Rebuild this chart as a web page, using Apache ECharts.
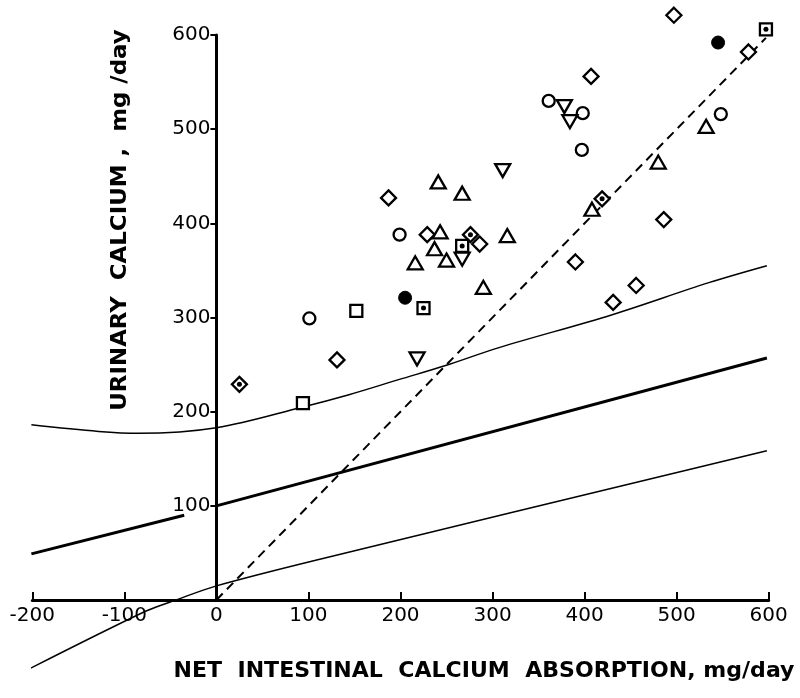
<!DOCTYPE html>
<html>
<head>
<meta charset="utf-8">
<script src="https://cdn.jsdelivr.net/npm/echarts@6/dist/echarts.min.js"></script>
<style>
html,body{margin:0;padding:0;background:#fff;}
#chart{width:800px;height:698px;}
</style>
</head>
<body>
<div id="chart"></div>
<script>
// ---- data ----
const xTicks = [-200, -100, 0, 100, 200, 300, 400, 500, 600];
const yTicks = [100, 200, 300, 400, 500, 600];

const circles = [[101,299],[199,388],[361,530],[398,517],[397,478],[548,516]];
const diamonds = [[131,255],[187,427],[229,388],[286,378],[390,359],[431,316],[456,334],[486,404],[407,556],[497,621],[578,582]];
const trianglesUp = [[216,358],[237,373],[243,391],[250,361],[241,444],[267,432],[316,387],[290,332],[408,415],[480,465],[532,503]];
const trianglesDown = [[218,256],[267,362],[311,456],[378,524],[384,508]];
const squares = [[94,209],[152,307]];
const dottedDiamonds = [[25,229],[276,388],[419,426]];
const dottedSquares = [[225,310],[267,376],[597,606]];
const filledCircles = [[205,321],[545,592]];

const upperBand = [[-201,186],[-128,179],[-84,177],[0,183],[94,205],[144,218],[198,234],[249,249],[307,268],[430,303],[535,337],[598,355]];
const lowerBand = [[-209,-76],[-77,-12],[-44,0],[0,15],[109,42.5],[598,158.5]];
const regressionLeft = [[-201,49],[-35,90]];
const regressionRight = [[0,100],[598,257]];
const identityLine = [[0,0],[597,597]];

const FONT = 'DejaVu Sans';
const GRID = {left:32.3, right:31.3, top:35, bottom:98};
const X_MIN = -200, X_MAX = 600;
const zeroOffset = (0 - X_MIN) / (X_MAX - X_MIN) * (800 - GRID.left - GRID.right);

const chart = echarts.init(document.getElementById('chart'), null, {renderer:'canvas'});

function scatter(data, symbol, size, opts) {
  return Object.assign({
    type:'scatter', data:data, symbol:symbol, symbolSize:size, clip:false, z:5,
    itemStyle:{color:'#fff', borderColor:'#000', borderWidth:2.3, opacity:1}
  }, opts||{});
}
function line(data, width, opts) {
  return Object.assign({
    type:'line', data:data, symbol:'none', clip:false, z:3,
    lineStyle:{color:'#000', width:width}
  }, opts||{});
}

chart.setOption({
  animation:false,
  backgroundColor:'#fff',
  grid:Object.assign({containLabel:false, outerBoundsMode:'none'}, GRID),
  xAxis:{
    type:'value', min:X_MIN, max:X_MAX, interval:100,
    axisLine:{onZero:false, lineStyle:{color:'#000', width:3}},
    axisTick:{inside:true, length:8, lineStyle:{color:'#000', width:2}},
    axisLabel:{color:'#000', fontFamily:FONT, fontSize:20, margin:6,
      formatter:function(v){ return xTicks.indexOf(v) >= 0 ? String(v) : ''; }},
    splitLine:{show:false}
  },
  yAxis:{
    type:'value', min:0, max:600, interval:100,
    offset:-zeroOffset,
    axisLine:{onZero:false, lineStyle:{color:'#000', width:3}},
    axisTick:{inside:false, length:6, lineStyle:{color:'#000', width:2},
      interval:function(i, v){ return yTicks.indexOf(Number(v)) >= 0; }},
    axisLabel:{color:'#000', fontFamily:FONT, fontSize:20, margin:6,
      formatter:function(v){ return yTicks.indexOf(v) >= 0 ? String(v) : ''; }},
    splitLine:{show:false}
  },
  graphic:[
    {type:'text', x:121, y:220, rotation:Math.PI/2, scaleX:1.09, scaleY:1,
     style:{text:'URINARY  CALCIUM ,  mg /day', font:'bold 21px "DejaVu Sans"', fill:'#000', align:'center', verticalAlign:'middle'}},
    {type:'text', x:484, y:672, scaleX:1.05, scaleY:1,
     style:{text:'NET  INTESTINAL  CALCIUM  ABSORPTION, mg/day', font:'bold 21px "DejaVu Sans"', fill:'#000', align:'center', verticalAlign:'middle'}}
  ],
  series:[
    line(upperBand, 1.5, {smooth:0.35}),
    line(lowerBand, 1.5, {smooth:0.3}),
    line(regressionLeft, 3),
    line(regressionRight, 3),
    line(identityLine, 2, {lineStyle:{color:'#000', width:2, type:[9,6]}}),
    scatter(circles, 'circle', 12),
    scatter(diamonds, 'diamond', 15),
    scatter(trianglesUp, 'triangle', [15,13]),
    scatter(trianglesDown, 'triangle', [15,13], {symbolRotate:180}),
    scatter(squares, 'rect', 12),
    scatter(dottedDiamonds, 'diamond', 15),
    scatter(dottedSquares, 'rect', 12),
    scatter(dottedDiamonds, 'circle', 5, {z:6, itemStyle:{color:'#000', opacity:1}}),
    scatter(dottedSquares, 'circle', 5, {z:6, itemStyle:{color:'#000', opacity:1}}),
    scatter(filledCircles, 'circle', 13, {itemStyle:{color:'#000', borderColor:'#000', borderWidth:1, opacity:1}})
  ]
});
</script>
</body>
</html>
